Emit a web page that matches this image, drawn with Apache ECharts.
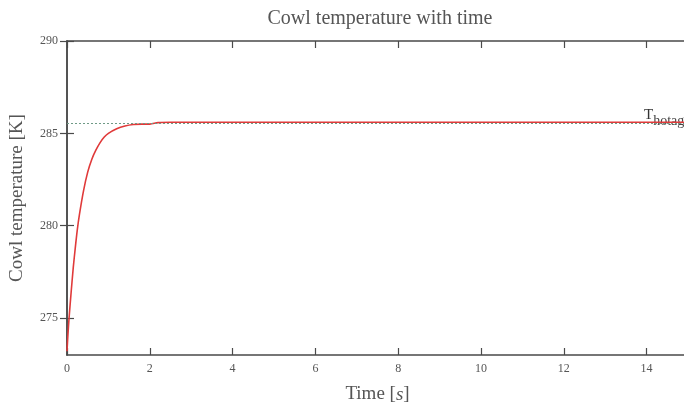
<!DOCTYPE html>
<html><head><meta charset="utf-8">
<script src="https://cdn.jsdelivr.net/npm/echarts@6/dist/echarts.min.js"></script>
<style>html,body{margin:0;padding:0;background:#fff}#c{width:684px;height:406px}</style>
</head><body><div id="c"></div>
<script>
const timeS = [0, 0.02, 0.05, 0.1, 0.15, 0.2, 0.25, 0.3, 0.4, 0.5, 0.6, 0.7, 0.8, 0.9, 1.0, 1.2, 1.4, 1.6, 1.8, 2.0, 2.2, 2.5, 3, 4, 5, 6, 7, 8, 9, 10, 11, 12, 13, 14, 15];
const cowlTempK = [273.2, 274.0, 275.0, 276.4, 277.7, 278.8, 279.8, 280.6, 281.9, 282.9, 283.6, 284.1, 284.5, 284.8, 285.0, 285.25, 285.4, 285.48, 285.5, 285.5, 285.58, 285.6, 285.6, 285.6, 285.6, 285.6, 285.6, 285.6, 285.6, 285.6, 285.6, 285.6, 285.6, 285.6, 285.6];
const hotagLevel = 285.55;
const xTicks = [0, 2, 4, 6, 8, 10, 12, 14];
const yTicks = [275, 280, 285, 290];

const serif = '"Liberation Serif","DejaVu Serif",serif';
const axisCol = '#4a4a4a';
const chart = echarts.init(document.getElementById('c'));
chart.setOption({
  animation: false,
  title: { text: 'Cowl temperature with time', left: 375, top: 4, textAlign: 'center',
    textStyle: { fontFamily: serif, fontSize: 20, fontWeight: 'normal', color: '#555' } },
  grid: { left: 67, width: 621, top: 41, bottom: 51, outerBoundsMode: 'none', containLabel: false },
  xAxis: [{
    type: 'value', min: 0, max: 15, interval: 2, position: 'bottom',
    name: '{n|Time [}{i|s}{n|]}', nameLocation: 'middle', nameGap: 30,
    nameTextStyle: { fontFamily: serif, fontSize: 19, color: '#555',
      rich: { n: { fontFamily: serif, fontSize: 19, color: '#555' },
              i: { fontFamily: serif, fontSize: 19, color: '#555', fontStyle: 'italic' } } },
    axisLabel: { fontFamily: serif, fontSize: 12, color: '#555', margin: 8,
      formatter: v => xTicks.includes(v) ? String(v) : '' },
    axisTick: { show: true, inside: true, length: 7, lineStyle: { color: axisCol, width: 1.2 } },
    axisLine: { show: true, onZero: false, lineStyle: { color: axisCol, width: 1.5 } },
    splitLine: { show: false }
  }, {
    type: 'value', min: 0, max: 15, interval: 2, position: 'top',
    axisLabel: { show: false },
    axisTick: { show: true, inside: true, length: 7, lineStyle: { color: axisCol, width: 1.2 } },
    axisLine: { show: true, onZero: false, lineStyle: { color: axisCol, width: 1.5 } },
    splitLine: { show: false }
  }],
  yAxis: [{
    type: 'value', min: 273, max: 290, position: 'left',
    name: 'Cowl temperature [K]', nameLocation: 'middle', nameGap: 40,
    nameTextStyle: { fontFamily: serif, fontSize: 19, color: '#555' },
    axisLabel: { fontFamily: serif, fontSize: 12, color: '#555', margin: 9, customValues: yTicks.slice() },
    axisTick: { show: true, inside: true, length: 7, customValues: yTicks.slice(), lineStyle: { color: axisCol, width: 1.2 } },
    axisLine: { show: true, lineStyle: { color: axisCol, width: 1.5 } },
    splitLine: { show: false }
  }, {
    type: 'value', min: 273, max: 290, position: 'right',
    axisLabel: { show: false },
    axisTick: { show: true, inside: true, length: 7, customValues: yTicks.slice(), lineStyle: { color: axisCol, width: 1.2 } },
    axisLine: { show: true, lineStyle: { color: axisCol, width: 1.5 } },
    splitLine: { show: false }
  }],
  series: [{
    type: 'line', xAxisIndex: 0, yAxisIndex: 0,
    data: timeS.map((t, i) => [t, cowlTempK[i]]),
    showSymbol: false, smooth: 0.3,
    lineStyle: { color: '#e03a3a', width: 1.6 },
    markLine: {
      silent: true, symbol: ['none', 'none'],
      label: { show: false },
      lineStyle: { color: '#6f9a86', type: [2, 2], width: 1 },
      data: [[{ coord: [0, hotagLevel] }, { coord: [15, hotagLevel] }]]
    }
  }],
  graphic: [{
    type: 'text', left: 644, top: 108,
    style: {
      text: '{a|T}{b|hotag}',
      rich: {
        a: { fontFamily: serif, fontSize: 15, fill: '#333' },
        b: { fontFamily: serif, fontSize: 14, fill: '#444', padding: [11, 0, 0, 0] }
      }
    }
  }]
});
</script></body></html>
